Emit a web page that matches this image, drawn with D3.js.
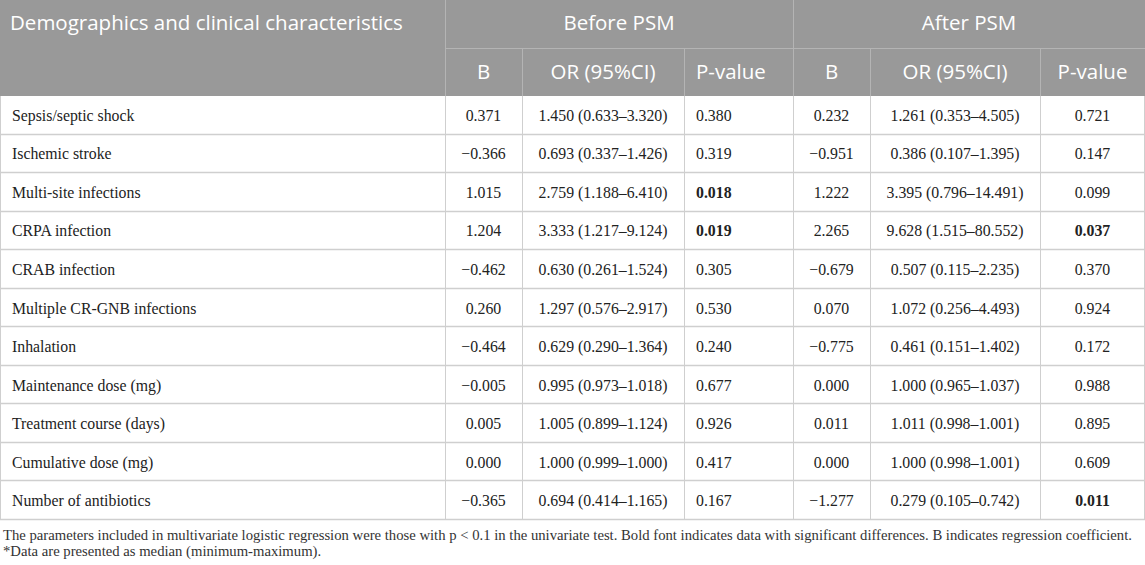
<!DOCTYPE html>
<html lang="en">
<head>
<meta charset="utf-8">
<title>Multivariate logistic regression before and after PSM</title>
<script src="https://cdn.jsdelivr.net/npm/d3@7"></script>
<style>
  body { margin: 0; background: #fff; }
  .head { font-family: "Open Sans", sans-serif; fill: #fff; }
  .cell { font-family: "Liberation Serif", "Times New Roman", serif; fill: #222; }
  .note { font-family: "Liberation Serif", "Times New Roman", serif; fill: #333; }
</style>
</head>
<body>
<div id="chart"></div>
<script>
// table content
const labels = ["Sepsis/septic shock", "Ischemic stroke", "Multi-site infections", "CRPA infection",
  "CRAB infection", "Multiple CR-GNB infections", "Inhalation", "Maintenance dose (mg)",
  "Treatment course (days)", "Cumulative dose (mg)", "Number of antibiotics"];
const beforeB = ["0.371", "\u22120.366", "1.015", "1.204", "\u22120.462", "0.260", "\u22120.464", "\u22120.005", "0.005", "0.000", "\u22120.365"];
const beforeOR = ["1.450 (0.633\u20133.320)", "0.693 (0.337\u20131.426)", "2.759 (1.188\u20136.410)", "3.333 (1.217\u20139.124)",
  "0.630 (0.261\u20131.524)", "1.297 (0.576\u20132.917)", "0.629 (0.290\u20131.364)", "0.995 (0.973\u20131.018)",
  "1.005 (0.899\u20131.124)", "1.000 (0.999\u20131.000)", "0.694 (0.414\u20131.165)"];
const beforeP = ["0.380", "0.319", "0.018", "0.019", "0.305", "0.530", "0.240", "0.677", "0.926", "0.417", "0.167"];
const afterB = ["0.232", "\u22120.951", "1.222", "2.265", "\u22120.679", "0.070", "\u22120.775", "0.000", "0.011", "0.000", "\u22121.277"];
const afterOR = ["1.261 (0.353\u20134.505)", "0.386 (0.107\u20131.395)", "3.395 (0.796\u201314.491)", "9.628 (1.515\u201380.552)",
  "0.507 (0.115\u20132.235)", "1.072 (0.256\u20134.493)", "0.461 (0.151\u20131.402)", "1.000 (0.965\u20131.037)",
  "1.011 (0.998\u20131.001)", "1.000 (0.998\u20131.001)", "0.279 (0.105\u20130.742)"];
const afterP = ["0.721", "0.147", "0.099", "0.037", "0.370", "0.924", "0.172", "0.988", "0.895", "0.609", "0.011"];
const groupHeads = ["Before PSM", "After PSM"];
const subHeads = ["B", "OR (95%CI)", "P-value", "B", "OR (95%CI)", "P-value"];
const firstHead = "Demographics and clinical characteristics";
const notes = [
  "The parameters included in multivariate logistic regression were those with p < 0.1 in the univariate test. Bold font indicates data with significant differences. B indicates regression coefficient.",
  "*Data are presented as median (minimum-maximum)."
];

const w = 1145, h = 565;
const edges = [0, 445, 522, 684, 793, 870, 1040, 1145];
const headBg = "#999999", lineCol = "#cfcfcf", headLine = "#b4b4b4";
const headSize = "20.5px";

const svg = d3.select("#chart").append("svg")
  .attr("width", w).attr("height", h);

const y = d3.scaleBand().domain(d3.range(labels.length)).range([96, 520]);

// header background
svg.append("rect").attr("x", 0).attr("y", 0).attr("width", w).attr("height", 96).attr("fill", headBg);
svg.append("line").attr("x1", 445).attr("x2", w).attr("y1", 48.5).attr("y2", 48.5).attr("stroke", headLine);
[445, 793].forEach(x => svg.append("line").attr("x1", x + .5).attr("x2", x + .5).attr("y1", 0).attr("y2", 96).attr("stroke", headLine));
[522, 684, 870, 1040].forEach(x => svg.append("line").attr("x1", x + .5).attr("x2", x + .5).attr("y1", 48).attr("y2", 96).attr("stroke", headLine));

svg.append("text").attr("class", "head").attr("x", 10).attr("y", 23).attr("dy", "0.35em")
  .style("font-size", headSize).text(firstHead);
svg.selectAll(".ghead").data(groupHeads).enter().append("text")
  .attr("class", "head ghead")
  .attr("x", (d, i) => (edges[i * 3 + 1] + edges[i * 3 + 4]) / 2)
  .attr("y", 23).attr("dy", "0.35em").attr("text-anchor", "middle")
  .style("font-size", headSize).text(d => d);
svg.selectAll(".shead").data(subHeads).enter().append("text")
  .attr("class", "head shead")
  .attr("x", (d, i) => i == 2 ? edges[3] + 12 : (edges[i + 1] + edges[i + 2]) / 2)
  .attr("y", 72).attr("dy", "0.35em")
  .attr("text-anchor", (d, i) => i == 2 ? "start" : "middle")
  .style("font-size", headSize).text(d => d);

// body grid
const rows = svg.append("g");
labels.forEach((lab, i) => {
  const yy = Math.round(y(i) + y.bandwidth()) - .5;
  rows.append("line").attr("x1", 0).attr("x2", w)
    .attr("y1", yy).attr("y2", yy)
    .attr("stroke", lineCol).attr("stroke-width", 1.5);
});
edges.forEach(x => {
  const xx = x == w ? w - .5 : x + .5;
  svg.append("line").attr("x1", xx).attr("x2", xx).attr("y1", 96).attr("y2", 520).attr("stroke", lineCol);
});

// cells
const cols = [
  { vals: labels, anchor: "start", x: 12 },
  { vals: beforeB, anchor: "middle" },
  { vals: beforeOR, anchor: "middle" },
  { vals: beforeP, anchor: "start", x: edges[3] + 12, p: true },
  { vals: afterB, anchor: "middle" },
  { vals: afterOR, anchor: "middle" },
  { vals: afterP, anchor: "middle", p: true }
];
cols.forEach((c, ci) => {
  svg.append("g").selectAll("text").data(c.vals).enter().append("text")
    .attr("class", "cell")
    .attr("x", c.anchor == "start" ? c.x : (edges[ci] + edges[ci + 1]) / 2)
    .attr("y", (d, i) => y(i) + y.bandwidth() / 2)
    .attr("dy", "0.35em")
    .attr("text-anchor", c.anchor)
    .style("font-size", "15.8px")
    .style("font-weight", d => c.p && +d < 0.05 ? "bold" : "normal")
    .text(d => d);
});

// notes
svg.selectAll(".note").data(notes).enter().append("text")
  .attr("class", "note")
  .attr("x", 3)
  .attr("y", (d, i) => 535 + i * 16)
  .attr("dy", "0.35em")
  .style("font-size", "14.7px")
  .text(d => d);
</script>
</body>
</html>
